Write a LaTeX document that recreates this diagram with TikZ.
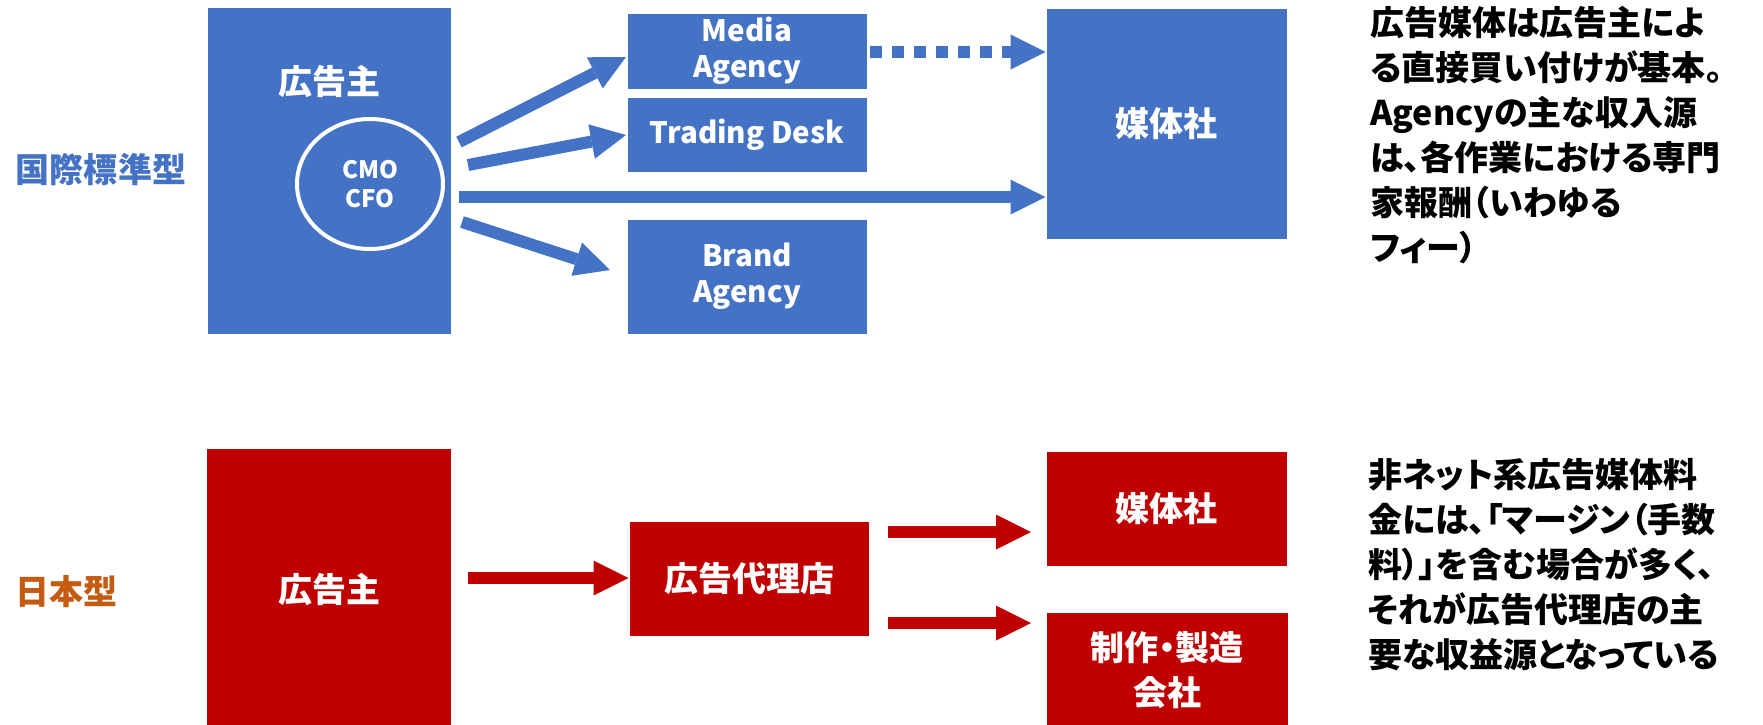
\documentclass[tikz,border=0pt]{standalone}
\usepackage{fontspec}
\setmainfont{Noto Sans CJK JP}
\newfontfamily\notefont{Noto Sans CJK JP}[RawFeature=+palt]
\usetikzlibrary{arrows.meta,shapes.geometric}
\definecolor{cblue}{HTML}{4472C4}
\definecolor{cred}{HTML}{C00000}
\definecolor{corange}{HTML}{C55A11}
\begin{document}
\begin{tikzpicture}[x=1pt,y=-1pt,
  box/.style={draw=white, line width=1pt, inner sep=0pt, text=white, align=center,
    font=\bfseries\fontsize{34}{45}\selectfont},
  bluebox/.style={box, fill=cblue},
  redbox/.style={box, fill=cred},
  engbox/.style={bluebox, font=\bfseries\fontsize{29.5}{36}\selectfont},
  boxlabel/.style={text=white, inner sep=0pt, font=\bfseries\fontsize{34}{45}\selectfont},
  sidelabel/.style={inner sep=0pt, font=\bfseries\fontsize{34}{40}\selectfont},
  note/.style={inner sep=0pt, anchor=north west, align=left, text=black,
    font=\notefont\bfseries\fontsize{34}{45}\selectfont},
  fatarrow/.style={line width=12pt, -{Triangle[length=35pt,width=35pt,line width=0pt]}},
  barrow/.style={fatarrow, cblue},
  rarrow/.style={fatarrow, cred},
]
\useasboundingbox[fill=white] (0,0) rectangle (1763,724);

% labels on the left
\node[sidelabel, text=cblue] (intl) at (101,170) {国際標準型};
\node[sidelabel, text=corange] (jp) at (66,592) {日本型};

% --- international type ---
\node[bluebox, minimum width=244pt, minimum height=327pt] (adv1) at (329,170.5) {};
\node[boxlabel] (adv1t) at (329,82) {広告主};
\node[ellipse, draw=white, line width=4pt, minimum width=146pt, minimum height=130pt,
  text=white, align=center, inner sep=0pt,
  font=\bfseries\fontsize{24}{29}\selectfont] (cmo) at (370,184) {CMO\\CFO};
\node[engbox, minimum width=240pt, minimum height=76pt] (media) at (747,51) {Media\\Agency};
\node[engbox, minimum width=240pt, minimum height=75pt] (trade) at (747,134.5) {Trading Desk};
\node[engbox, minimum width=240pt, minimum height=115pt] (brand) at (747,276.5) {Brand\\Agency};
\node[bluebox, minimum width=241pt, minimum height=231pt] (pub1) at (1166.5,123.5) {媒体社};

\coordinate (a1s) at (459,142);
\coordinate (a1e) at (626,57);
\coordinate (a2s) at (468,165);
\coordinate (a2e) at (626,135);
\coordinate (a3s) at (459,197);
\coordinate (a4s) at (462,222);
\coordinate (a4e) at (610,270);
\coordinate (dots) at (870,52);

\draw[barrow] (a1s) -- (a1e);
\draw[barrow] (a2s) -- (a2e);
\draw[barrow] (a3s) -- (a3s -| pub1.west);
\draw[barrow] (a4s) -- (a4e);
\draw[barrow, dash pattern=on 12pt off 10pt] (dots) -- (dots -| pub1.west);

\node[note] (note1) at (1370,6) {広告媒体は広告主によ\\る直接買い付けが基本。\\Agencyの主な収入源\\は、各作業における専門\\家報酬（いわゆる\\フィー）};

% --- Japanese type ---
\fill[cred] (207,449) rectangle (451,730);
\node[boxlabel] (adv2) at (329,590) {広告主};
\node[redbox, minimum width=240pt, minimum height=115pt] (agency) at (749,578.5) {広告代理店};
\node[redbox, minimum width=241pt, minimum height=115pt] (pub2) at (1166.5,508.5) {媒体社};
\draw[white, line width=1pt, fill=cred] (1046,612) rectangle (1288,740);
\node[boxlabel, align=center, font=\notefont\bfseries\fontsize{34}{45}\selectfont] (prod) at (1167,670) {制作・製造\\会社};

\coordinate (r1s) at (468,578);
\coordinate (r2s) at (888,532);
\coordinate (r2e) at (1031,532);
\coordinate (r3s) at (888,623);
\coordinate (r3e) at (1031,623);
\draw[rarrow] (r1s) -- (r1s -| agency.west);
\draw[rarrow] (r2s) -- (r2e);
\draw[rarrow] (r3s) -- (r3e);

\node[note] (note2) at (1368,458) {非ネット系広告媒体料\\金には、「マージン（手数\\料）」を含む場合が多く、\\それが広告代理店の主\\要な収益源となっている};
\end{tikzpicture}
\end{document}
